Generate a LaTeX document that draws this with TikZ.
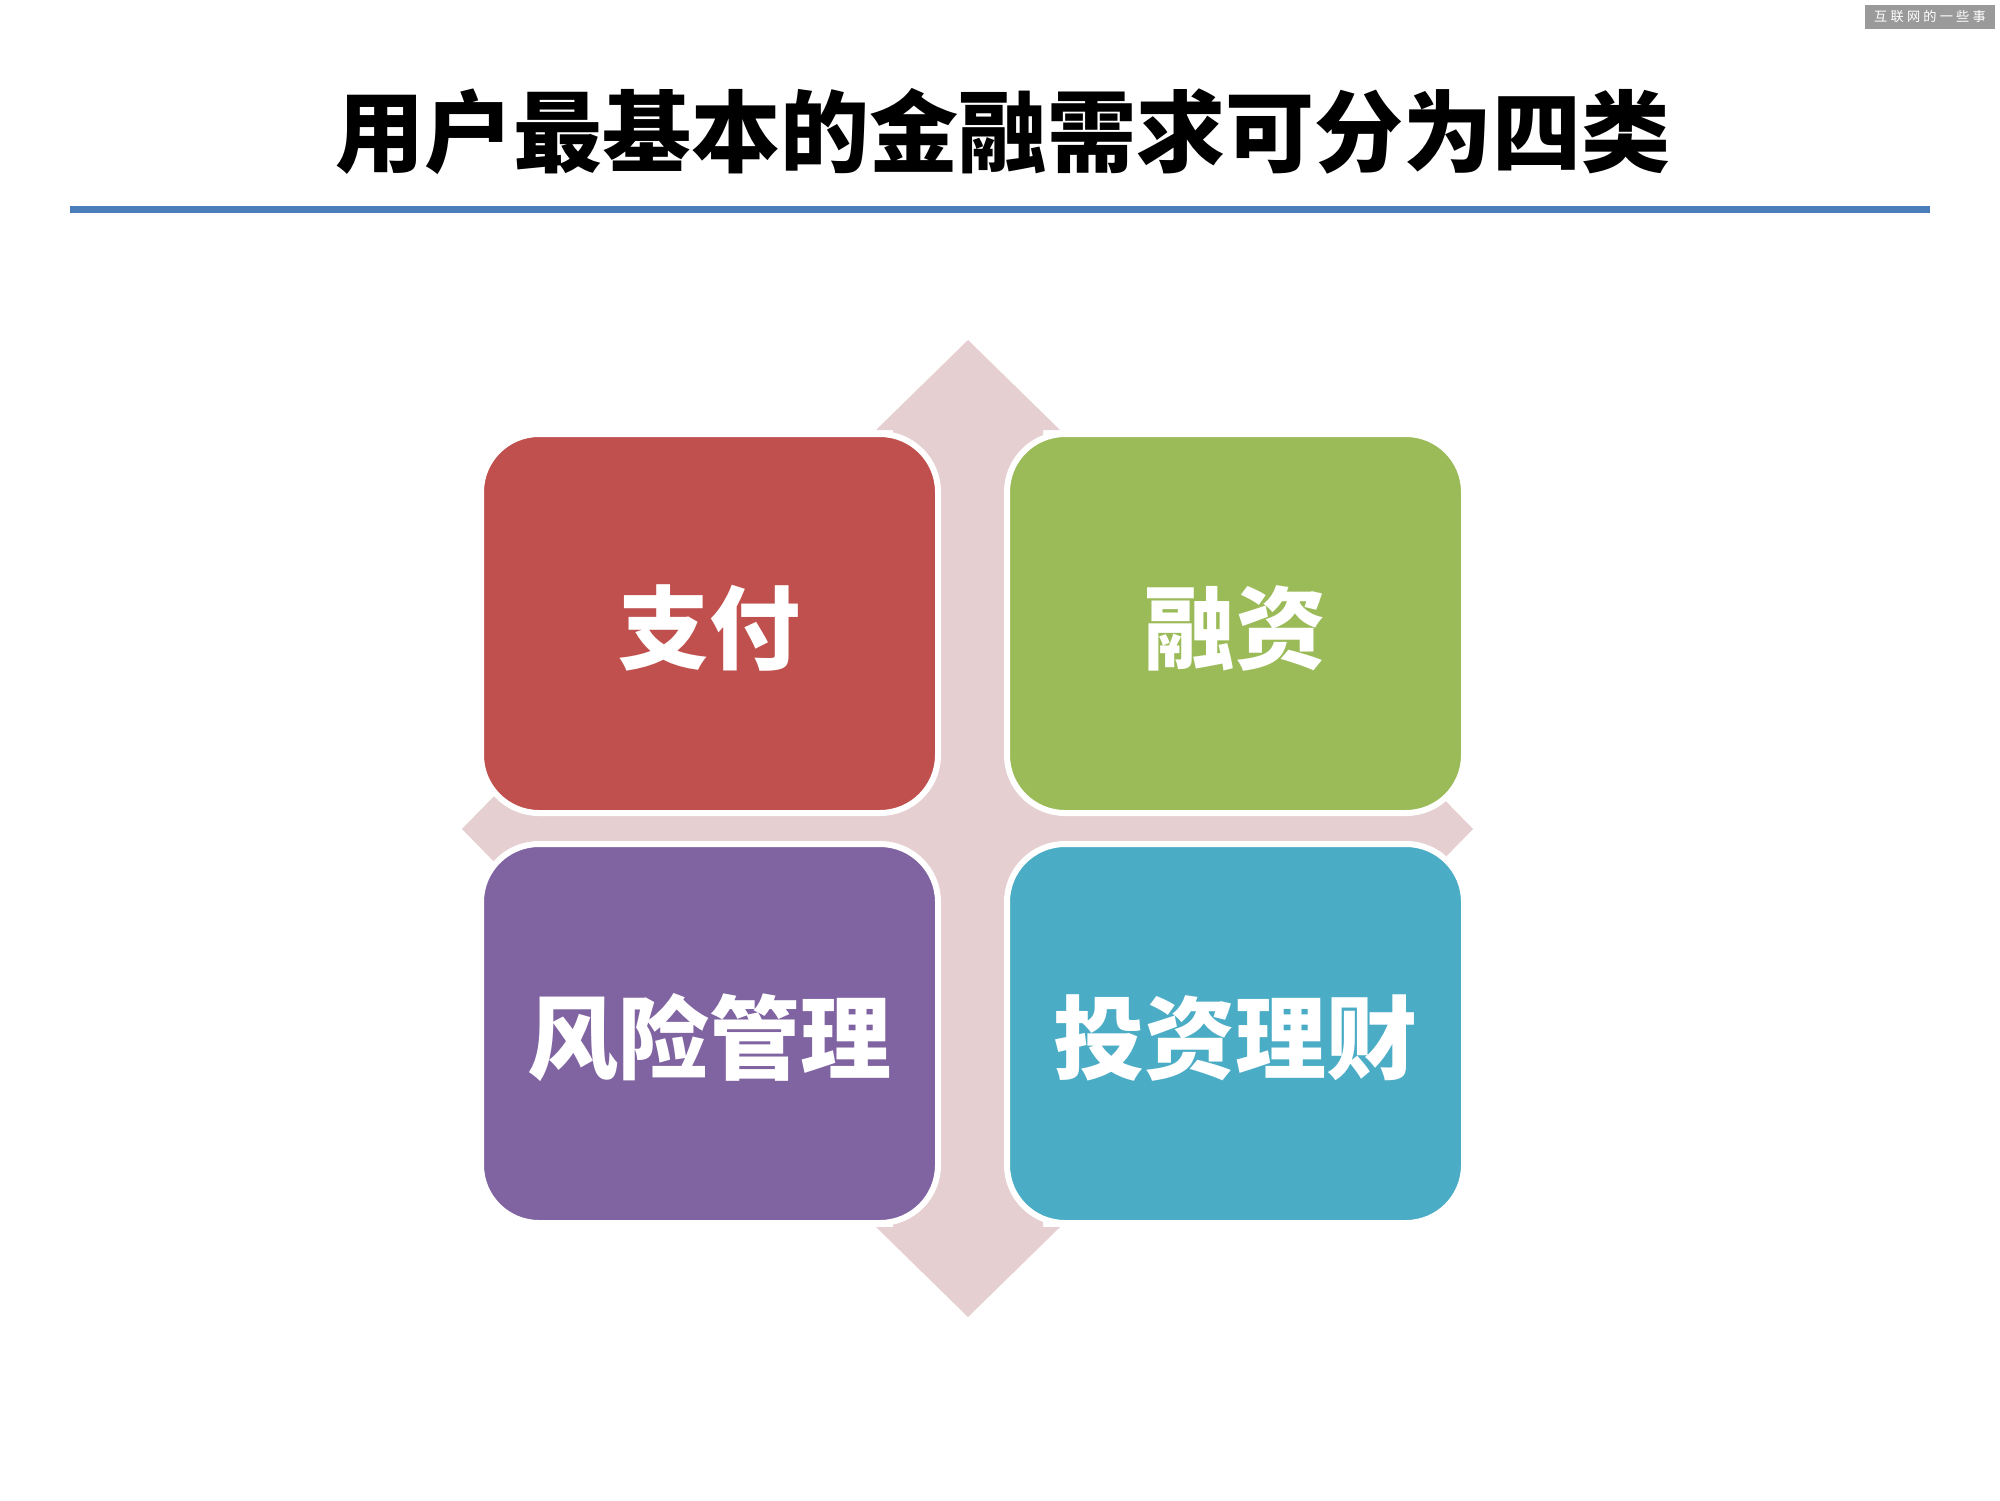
\documentclass[tikz,border=0pt]{standalone}
\usepackage{fontspec}
\newfontfamily\cjk{Noto Sans CJK SC}
\definecolor{boxred}{HTML}{C0504D}
\definecolor{boxgreen}{HTML}{9BBB59}
\definecolor{boxpurple}{HTML}{8064A2}
\definecolor{boxaqua}{HTML}{4BACC6}
\definecolor{crosspink}{RGB}{230,207,209}
\definecolor{lineblue}{HTML}{4A7EBB}
\definecolor{wmgray}{HTML}{9A9A9A}
\begin{document}
\begin{tikzpicture}[x=0.5pt,y=-0.5pt,
  quad/.style={draw=white, line width=3pt, rounded corners=29pt, inner sep=0pt, outer sep=0pt,
               minimum width=228.5pt, minimum height=189.5pt},
  quadtext/.style={anchor=base, text=white, inner sep=0pt,
               font=\cjk\bfseries\fontsize{45.5pt}{50pt}\selectfont},
  titletext/.style={anchor=base, text=black, inner sep=0pt,
               font=\cjk\bfseries\fontsize{44.5pt}{50pt}\selectfont}]
\useasboundingbox (0,0) rectangle (2000,1500);
\fill[white] (0,0) rectangle (2000,1500);

% watermark
\node[fill=wmgray, minimum width=65pt, minimum height=12pt, inner sep=0pt, text=white,
      font=\cjk\fontsize{6.6pt}{7pt}\selectfont] (wm) at (1930,17)
      {互\hspace{1.6pt}联\hspace{1.6pt}网\hspace{1.6pt}的\hspace{1.6pt}一\hspace{1.6pt}些\hspace{1.6pt}事};

% title and rule
\node[titletext] (title) at (1003,165) {用户最基本的金融需求可分为四类};
\coordinate (l1) at (70,209);
\coordinate (l2) at (1930,209);
\draw[lineblue, line width=3.5pt] (l1) -- (l2);

% quad arrow behind
\fill[crosspink] (968,340) -- (1060,430) -- (1043,430) -- (1043,754) -- (1383,754) -- (1383,737)
  -- (1473,829) -- (1383,921) -- (1383,904) -- (1043,904) -- (1043,1227) -- (1060,1227)
  -- (968,1317) -- (876,1227) -- (893,1227) -- (893,904) -- (552,904) -- (552,921)
  -- (462,829) -- (552,737) -- (552,754) -- (893,754) -- (893,430) -- (876,430) -- cycle;

% four boxes
\node[quad, fill=boxred]    (pay)    at (709.5,623.5) {};
\node[quad, fill=boxgreen]  (fin)    at (1235.5,623.5) {};
\node[quad, fill=boxpurple] (risk)   at (709.5,1033.5) {};
\node[quad, fill=boxaqua]   (invest) at (1235.5,1033.5) {};

\node[quadtext] (payT)    at (709.5,662) {支付};
\node[quadtext] (finT)    at (1235.5,662) {融资};
\node[quadtext] (riskT)   at (709.5,1072) {风险管理};
\node[quadtext] (investT) at (1235.5,1072) {投资理财};
\end{tikzpicture}
\end{document}
